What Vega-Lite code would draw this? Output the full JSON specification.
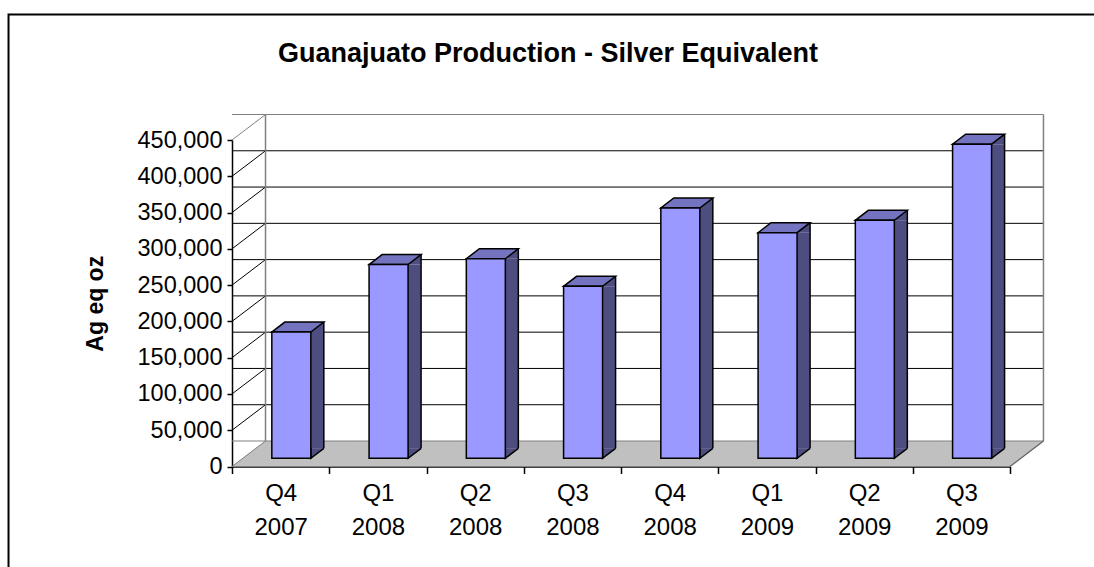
{
  "$schema": "https://vega.github.io/schema/vega-lite/v6.json",
  "width": 778,
  "height": 326.5,
  "autosize": {"type": "none"},
  "padding": {"left": 232, "top": 140, "right": 84, "bottom": 100.5},
  "background": "white",
  "config": {
    "font": "Liberation Sans",
    "numberFormat": ",.0f",
    "view": {"stroke": null},
    "axisX": {"labelExpr": "split(datum.label, ' ')", "labelAngle": 0, "labelFontSize": 24, "labelColor": "black", "labelLineHeight": 33.5, "labelPadding": 8, "tickBand": "extent", "tickSize": 7, "tickColor": "black", "domainColor": "black", "domainWidth": 1.5, "tickWidth": 1.5, "grid": false, "labelOverlap": false},
    "axisY": {"titleFontSize": 23, "titleFontWeight": "bold", "titleColor": "black", "titlePadding": 30, "labelFontSize": 23.5, "labelColor": "black", "labelPadding": 5, "tickSize": 5, "tickColor": "black", "domainColor": "black", "domainWidth": 1.5, "tickWidth": 1.5, "grid": false, "labelOverlap": false, "tickCount": 10}
  },
  "title": {"text": "Guanajuato Production - Silver Equivalent", "fontSize": 27, "fontWeight": "bold", "font": "Liberation Sans", "color": "black", "anchor": "middle", "frame": "group", "dx": -73, "offset": -79, "baseline": "alphabetic"},
  "datasets": {
    "bars": [
      {"quarter": "Q4 2007", "value": 174000},
      {"quarter": "Q1 2008", "value": 267000},
      {"quarter": "Q2 2008", "value": 275000},
      {"quarter": "Q3 2008", "value": 237000},
      {"quarter": "Q4 2008", "value": 345000},
      {"quarter": "Q1 2009", "value": 311000},
      {"quarter": "Q2 2009", "value": 328000},
      {"quarter": "Q3 2009", "value": 433000}
    ],
    "grid": [
      {"v": 0}, {"v": 50000}, {"v": 100000}, {"v": 150000}, {"v": 200000},
      {"v": 250000}, {"v": 300000}, {"v": 350000}, {"v": 400000}, {"v": 450000}
    ]
  },
  "layer": [
    {
      "data": {"name": "bars"},
      "mark": {"type": "point", "shape": "M-49,0L49,0L82.5,-25.5L-15.5,-25.5Z", "size": 4, "filled": true, "fill": "#C0C0C0", "strokeWidth": 0, "opacity": 1},
      "encoding": {
        "x": {"field": "quarter", "type": "nominal", "title": null,
          "scale": {"domain": ["Q4 2007", "Q1 2008", "Q2 2008", "Q3 2008", "Q4 2008", "Q1 2009", "Q2 2009", "Q3 2009"], "paddingInner": 0, "paddingOuter": 0}},
        "y": {"datum": 0, "type": "quantitative", "title": "Ag eq oz", "axis": {"format": ",.0f"},
          "scale": {"domain": [0, 450000], "nice": false, "zero": true}}
      }
    },
    {
      "data": {"name": "grid"},
      "mark": {"type": "rule", "xOffset": 33.5, "x2Offset": 33.5, "yOffset": -25.5, "strokeWidth": 1},
      "encoding": {
        "y": {"field": "v", "type": "quantitative", "title": "Ag eq oz", "axis": {"format": ",.0f"}},
        "stroke": {"condition": {"test": "datum.v == 0 || datum.v == 450000", "value": "#808080"}, "value": "black"}
      }
    },
    {
      "data": {"name": "grid"},
      "mark": {"type": "point", "shape": "M-48.6,0L-15.1,-25.5", "size": 4, "filled": false, "strokeWidth": 1, "opacity": 1},
      "encoding": {
        "x": {"datum": "Q4 2007", "type": "nominal", "title": null},
        "y": {"field": "v", "type": "quantitative", "title": "Ag eq oz", "axis": {"format": ",.0f"}},
        "stroke": {"condition": {"test": "datum.v == 0 || datum.v == 450000", "value": "#808080"}, "value": "black"}
      }
    },
    {
      "data": {"name": "grid"},
      "transform": [{"filter": "datum.v == 0"}],
      "mark": {"type": "rule", "xOffset": -15.1, "yOffset": -25.5, "y2Offset": -25.5, "stroke": "#808080", "strokeWidth": 1.5},
      "encoding": {
        "x": {"datum": "Q4 2007", "type": "nominal", "title": null},
        "y": {"datum": 0, "type": "quantitative", "title": "Ag eq oz", "axis": {"format": ",.0f"}},
        "y2": {"datum": 450000}
      }
    },
    {
      "data": {"name": "grid"},
      "transform": [{"filter": "datum.v == 0"}],
      "mark": {"type": "rule", "xOffset": 82.1, "yOffset": -25.5, "y2Offset": -25.5, "stroke": "#808080", "strokeWidth": 1.5},
      "encoding": {
        "x": {"datum": "Q3 2009", "type": "nominal", "title": null},
        "y": {"datum": 0, "type": "quantitative", "title": "Ag eq oz", "axis": {"format": ",.0f"}},
        "y2": {"datum": 450000}
      }
    },
    {
      "data": {"name": "grid"},
      "transform": [{"filter": "datum.v == 0"}],
      "mark": {"type": "point", "shape": "M48.6,0L82.1,-25.5", "size": 4, "filled": false, "stroke": "#606060", "strokeWidth": 1.2, "opacity": 1},
      "encoding": {
        "x": {"datum": "Q3 2009", "type": "nominal", "title": null},
        "y": {"datum": 0, "type": "quantitative", "title": "Ag eq oz", "axis": {"format": ",.0f"}}
      }
    },
    {
      "data": {"name": "bars"},
      "mark": {"type": "bar", "width": 13, "xOffset": 36.7, "yOffset": -8.2, "y2Offset": -18.2, "fill": "#4D4D80", "strokeWidth": 0},
      "encoding": {
        "x": {"field": "quarter", "type": "nominal", "title": null},
        "y": {"field": "value", "type": "quantitative", "title": "Ag eq oz", "axis": {"format": ",.0f"}},
        "y2": {"datum": 0}
      }
    },
    {
      "data": {"name": "bars"},
      "mark": {"type": "point", "shape": "M30.2,-18.2L30.2,-8.2L43.2,-18.2", "size": 4, "filled": true, "fill": "#4D4D80", "stroke": "black", "strokeWidth": 1.5, "opacity": 1},
      "encoding": {
        "x": {"field": "quarter", "type": "nominal", "title": null},
        "y": {"datum": 0, "type": "quantitative", "title": "Ag eq oz", "axis": {"format": ",.0f"}}
      }
    },
    {
      "data": {"name": "bars"},
      "mark": {"type": "point", "shape": "M30.2,-8.2L43.2,-18.2L43.2,-8.2Z", "size": 4, "filled": true, "fill": "#4D4D80", "strokeWidth": 0, "opacity": 1},
      "encoding": {
        "x": {"field": "quarter", "type": "nominal", "title": null},
        "y": {"field": "value", "type": "quantitative", "title": "Ag eq oz", "axis": {"format": ",.0f"}}
      }
    },
    {
      "data": {"name": "bars"},
      "mark": {"type": "point", "shape": "M-8.8,-8.2L30.2,-8.2L43.2,-18.2L4.2,-18.2Z", "size": 4, "filled": true, "fill": "#7373BF", "stroke": "black", "strokeWidth": 1.5, "opacity": 1},
      "encoding": {
        "x": {"field": "quarter", "type": "nominal", "title": null},
        "y": {"field": "value", "type": "quantitative", "title": "Ag eq oz", "axis": {"format": ",.0f"}}
      }
    },
    {
      "data": {"name": "bars"},
      "mark": {"type": "rule", "xOffset": 43.2, "yOffset": -18.2, "y2Offset": -18.2, "stroke": "black", "strokeWidth": 1.5},
      "encoding": {
        "x": {"field": "quarter", "type": "nominal", "title": null},
        "y": {"field": "value", "type": "quantitative", "title": "Ag eq oz", "axis": {"format": ",.0f"}},
        "y2": {"datum": 0}
      }
    },
    {
      "data": {"name": "bars"},
      "mark": {"type": "bar", "width": 39, "xOffset": 10.7, "yOffset": -8.2, "y2Offset": -8.2, "fill": "#9999FF", "stroke": "black", "strokeWidth": 1.5},
      "encoding": {
        "x": {"field": "quarter", "type": "nominal", "title": null},
        "y": {"field": "value", "type": "quantitative", "title": "Ag eq oz", "axis": {"format": ",.0f"}},
        "y2": {"datum": 0}
      }
    },
    {
      "data": {"name": "grid"},
      "transform": [{"filter": "datum.v == 0"}],
      "mark": {"type": "point", "shape": "M-273,-125.5L815,-125.5M-272.1,-126.5L-272.1,430", "size": 4, "filled": false, "stroke": "black", "strokeWidth": 2, "opacity": 1},
      "encoding": {
        "x": {"datum": "Q4 2007", "type": "nominal", "title": null},
        "y": {"datum": 450000, "type": "quantitative", "title": "Ag eq oz", "axis": {"format": ",.0f"}}
      }
    }
  ]
}
